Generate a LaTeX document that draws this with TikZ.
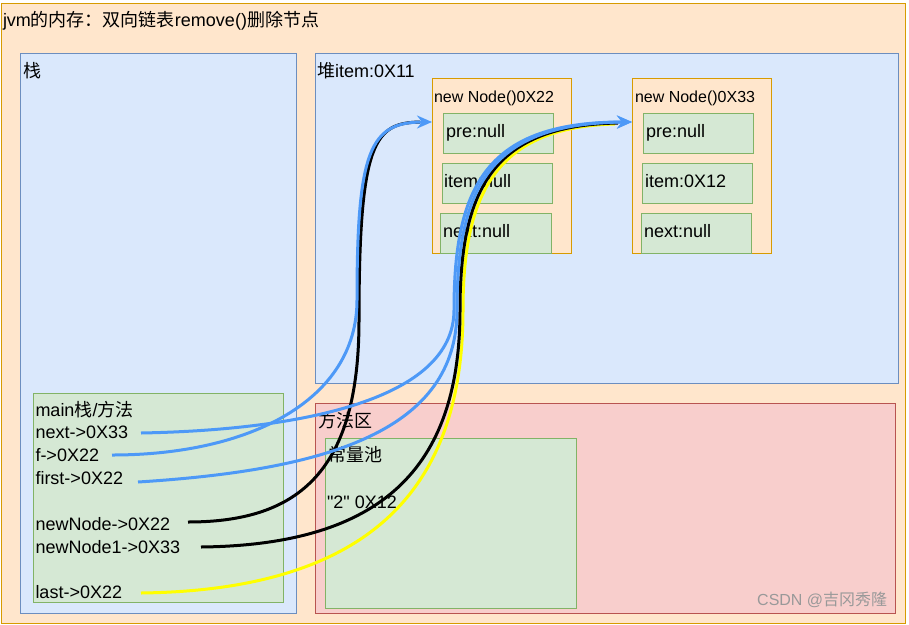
\documentclass[tikz,border=0pt]{standalone}
\usepackage{fontspec}
\setmainfont{Liberation Sans}[Ligatures=TeXOff]
\newfontfamily\cjk{Noto Sans CJK SC}
\newcommand{\zh}[1]{{\cjk #1}}
\usetikzlibrary{arrows.meta}
\definecolor{orfill}{HTML}{FFE6CC}
\definecolor{orline}{HTML}{D79B00}
\definecolor{blfill}{HTML}{DAE8FC}
\definecolor{blline}{HTML}{6C8EBF}
\definecolor{grfill}{HTML}{D5E8D4}
\definecolor{grline}{HTML}{82B366}
\definecolor{rdfill}{HTML}{F8CECC}
\definecolor{rdline}{HTML}{B85450}
\definecolor{wire}{HTML}{4D99F7}
\definecolor{ywire}{HTML}{FFFF00}
\begin{document}
\begin{tikzpicture}[x=1pt,y=-1pt,
  box/.style={draw, line width=1pt, inner sep=0pt, outer sep=0pt, anchor=north west},
  obox/.style={box, fill=orfill, draw=orline},
  bbox/.style={box, fill=blfill, draw=blline},
  gbox/.style={box, fill=grfill, draw=grline},
  rbox/.style={box, fill=rdfill, draw=rdline},
  txt/.style={anchor=base west, inner sep=0pt, outer sep=0pt, font=\fontsize{18}{20}\selectfont},
  stxt/.style={txt, font=\fontsize{16}{18}\selectfont},
  bline/.style={draw=wire, line width=3pt},
  barrow/.style={bline, -{Stealth[length=15pt,width=13pt,inset=5pt]}},
  kline/.style={draw=black, line width=3pt},
  yline/.style={draw=ywire, line width=3pt}]
\useasboundingbox (0,0) rectangle (909,624);
\fill[white] (0,0) rectangle (909,624);
% containers
\node[obox, minimum width=904pt, minimum height=620pt] (outer) at (1,3) {};
\node[txt] (title) at (3,26) {jvm\zh{的内存：双向链表}remove()\zh{删除节点}};
\node[bbox, minimum width=276pt, minimum height=560pt] (stack) at (20,53) {};
\node[txt] (stacklbl) at (23,77) {\zh{栈}};
\node[bbox, minimum width=583pt, minimum height=330pt] (heap) at (315,53) {};
\node[txt] (heaplbl) at (317,77) {\zh{堆}item:0X11};
\node[rbox, minimum width=580pt, minimum height=210pt] (method) at (315,403) {};
\node[txt] (methodlbl) at (318,427) {\zh{方法区}};
\node[gbox, minimum width=251pt, minimum height=170pt] (pool) at (325,438) {};
\node[txt] (poollbl) at (328,461) {\zh{常量池}};
\node[txt] (two) at (327,508) {"2" 0X12};
% node 0X22
\node[obox, minimum width=139pt, minimum height=175pt] (n22) at (432,78) {};
\node[stxt] (n22lbl) at (434,102) {new Node()0X22};
\node[gbox, minimum width=110pt, minimum height=40pt] (pre22) at (443,113) {};
\node[txt] at (446,137) {pre:null};
\node[gbox, minimum width=110pt, minimum height=40pt] (item22) at (442,163) {};
\node[txt] at (444,187) {item:null};
\node[gbox, minimum width=111pt, minimum height=40pt] (next22) at (440,213) {};
\node[txt] at (443,237) {next:null};
% node 0X33
\node[obox, minimum width=139pt, minimum height=175pt] (n33) at (632,78) {};
\node[stxt] (n33lbl) at (635,102) {new Node()0X33};
\node[gbox, minimum width=110pt, minimum height=40pt] (pre33) at (643,113) {};
\node[txt] at (646,137) {pre:null};
\node[gbox, minimum width=110pt, minimum height=40pt] (item33) at (642,163) {};
\node[txt] at (645,187) {item:0X12};
\node[gbox, minimum width=110pt, minimum height=40pt] (next33) at (641,213) {};
\node[txt] at (644,237) {next:null};
% main frame
\node[gbox, minimum width=250pt, minimum height=209pt] (main) at (33,393) {};
\node[txt] (mainlbl) at (35.5,416) {main\zh{栈}/\zh{方法}};
\node[txt] (vnext) at (35.5,438.5) {next->0X33};
\node[txt] (vf) at (35.5,461) {f->0X22};
\node[txt] (vfirst) at (35.5,484) {first->0X22};
\node[txt] (vnew) at (35.5,530) {newNode->0X22};
\node[txt] (vnew1) at (35.5,553) {newNode1->0X33};
\node[txt] (vlast) at (35.5,598.5) {last->0X22};
\node[anchor=base west, inner sep=0pt, font=\fontsize{16}{18}\selectfont, text=black!40] (mark) at (757,605) {CSDN @\zh{吉冈秀隆}};
% connector ends
\coordinate (s-next) at (141,433);
\coordinate (s-f) at (112,455);
\coordinate (s-first) at (138,482);
\coordinate (s-new) at (188,522);
\coordinate (s-new1) at (201,547);
\coordinate (s-last) at (141,593);
\coordinate (t22) at (n22.west |- 0,122);
\coordinate (t22k) at (420,122);
\coordinate (t33) at (n33.west |- 0,122);
\coordinate (t33k) at (618,123);
\coordinate (t33y) at (615,124);
% connectors
\draw[yline] (s-last) .. controls (380,590) and (463,480) .. (463,310) .. controls (463,192) and (497,127) .. (t33y);
\draw[kline] (s-new1) .. controls (380,545) and (460,470) .. (460,310) .. controls (460,188) and (494,125) .. (t33k);
\draw[kline] (s-new) .. controls (300,522) and (359,470) .. (359,320) .. controls (359,140) and (375,123) .. (t22k);
\draw[barrow] (s-f) .. controls (250,455) and (357,400) .. (357,300) .. controls (357,150) and (370,122) .. (t22);
\draw[barrow] (s-first) .. controls (330,470) and (457,430) .. (457,310) .. controls (457,186) and (491,123) .. (t33);
\draw[barrow] (s-next) .. controls (300,430) and (454,400) .. (454,310) .. controls (454,184) and (488,122) .. (t33);
\end{tikzpicture}
\end{document}
